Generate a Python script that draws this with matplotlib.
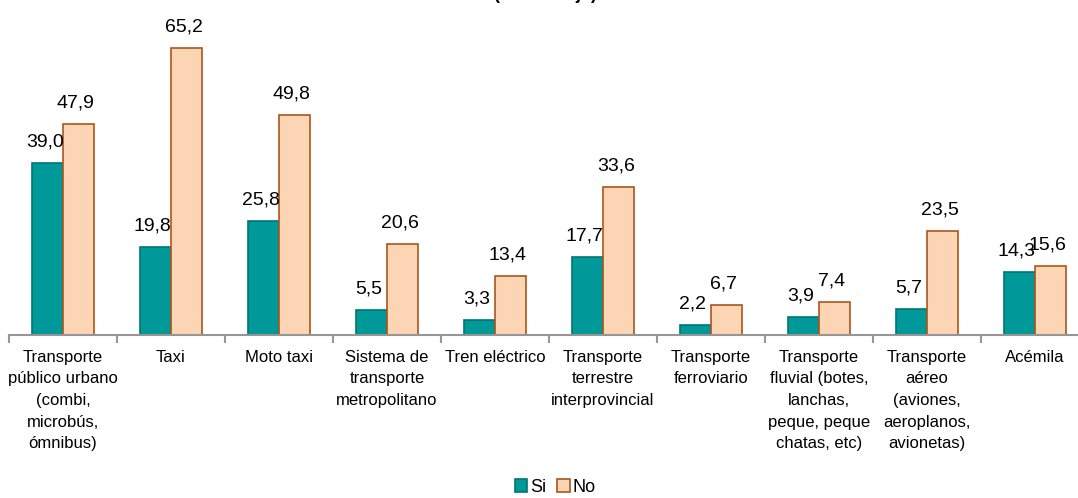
import numpy as np
import matplotlib.pyplot as plt

categorias = [
    "Transporte\npúblico urbano\n(combi,\nmicrobús,\nómnibus)",
    "Taxi",
    "Moto taxi",
    "Sistema de\ntransporte\nmetropolitano",
    "Tren eléctrico",
    "Transporte\nterrestre\ninterprovincial",
    "Transporte\nferroviario",
    "Transporte\nfluvial (botes,\nlanchas,\npeque, peque\nchatas, etc)",
    "Transporte\naéreo\n(aviones,\naeroplanos,\navionetas)",
    "Acémila",
]
si = [39.0, 19.8, 25.8, 5.5, 3.3, 17.7, 2.2, 3.9, 5.7, 14.3]
no = [47.9, 65.2, 49.8, 20.6, 13.4, 33.6, 6.7, 7.4, 23.5, 15.6]

plt.rcParams['font.family'] = ['Liberation Sans', 'DejaVu Sans']

fig = plt.figure(figsize=(10.78, 4.98), dpi=100)
ax = fig.add_axes([9 / 1078, (498 - 334.5) / 498, 1080 / 1078, 330 / 498])

x = np.arange(len(categorias))
w = 0.287
b1 = ax.bar(x - w / 2, si, w, color='#009999', edgecolor='#007575', linewidth=1.2, label='Si')
b2 = ax.bar(x + w / 2, no, w, color='#FCD5B4', edgecolor='#A8561C', linewidth=1.2, label='No')

for bars, vals in ((b1, si), (b2, no)):
    for r, v in zip(bars, vals):
        ax.annotate(f"{v:.1f}".replace('.', ','), (r.get_x() + r.get_width() / 2, r.get_height()),
                    xytext=(-2, 9), textcoords='offset points', ha='center', va='bottom',
                    fontsize=14)

ax.set_xlim(-0.5, len(categorias) - 0.5)
ax.set_ylim(0, 75)
for s in ('top', 'right', 'left'):
    ax.spines[s].set_visible(False)
ax.spines['bottom'].set_color('#969696')
ax.spines['bottom'].set_linewidth(1.5)
ax.set_yticks([])
ax.set_xticks(x)
ax.set_xticklabels(categorias, fontsize=12, linespacing=1.55)
ax.tick_params(axis='x', which='major', length=0, pad=11)
ax.set_xticks(np.arange(len(categorias) + 1) - 0.5, minor=True)
ax.tick_params(axis='x', which='minor', length=6, width=1.5, color='#969696')

fig.text(0.506, 1.003, "(Porcentaje)", ha='center', va='baseline', fontsize=13,
         fontweight='bold')

fig.legend(handles=[b1, b2], loc='lower center', bbox_to_anchor=(0.515, -0.028), ncol=2,
           frameon=False, fontsize=13, handlelength=0.7, handleheight=0.7,
           handletextpad=0.15, columnspacing=0.6)

fig.savefig('out.png', dpi=100)
